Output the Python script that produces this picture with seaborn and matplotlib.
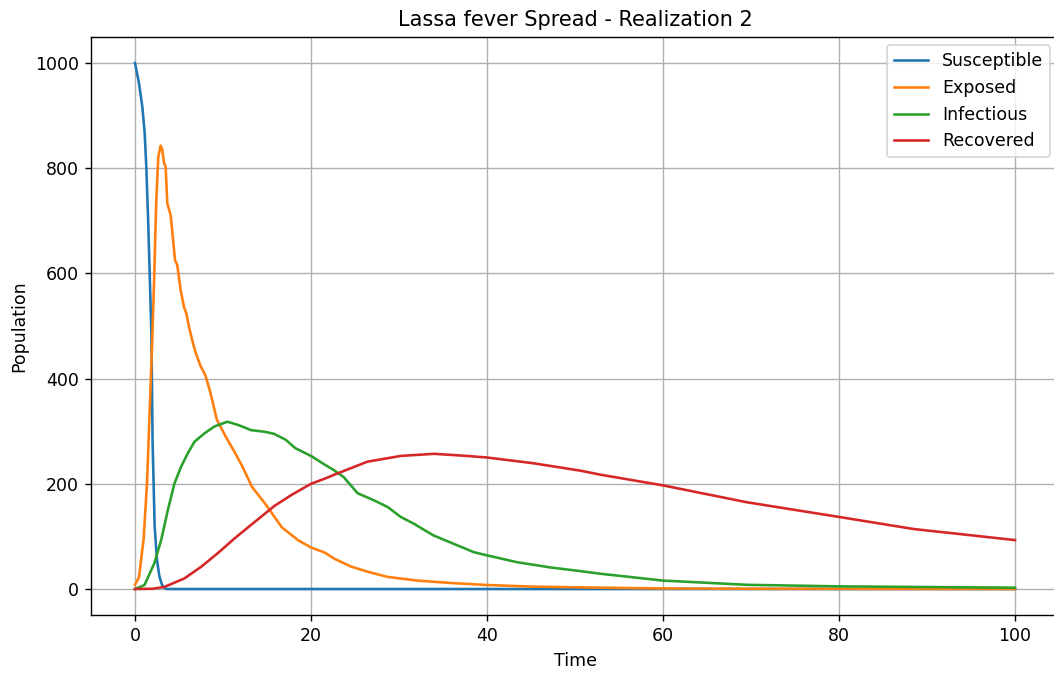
import matplotlib
matplotlib.use("Agg")
import matplotlib.pyplot as plt
import seaborn as sns
import pandas as pd

# Susceptible
t_s = [0, 0.45, 0.83, 1.1, 1.29, 1.48, 1.67, 1.86, 2.0, 2.23, 2.5, 2.77, 3.07, 3.35, 3.6, 100]
v_s = [1000, 962, 917, 867, 800, 708, 600, 487, 280, 120, 55, 24, 8, 2, 0, 0]

# Exposed
t_e = [0, 0.45, 0.98, 1.36, 1.65, 1.95, 2.16, 2.42, 2.65, 2.92, 3.1, 3.3, 3.48, 3.67, 4.05,
       4.55, 4.8, 5.19, 5.57, 5.83, 6.14, 6.5, 6.86, 7.42, 8.0, 8.56, 9.3, 10.3, 11.4, 12.2,
       13.3, 14.8, 16.7, 18.6, 20, 21.6, 22.6, 24.5, 26.4, 28.7, 32.1, 35.8, 40, 45.3, 52.9,
       60, 70, 80, 100]
v_e = [8, 22, 95, 200, 330, 470, 581, 740, 822, 843, 835, 810, 803, 733, 711,
       625, 616, 568, 536, 524, 498, 473, 451, 425, 406, 374, 322, 290, 258, 233,
       194, 162, 117, 92, 79, 69, 58, 43, 33, 23, 16, 11.5, 7.6, 4.5, 2.5,
       1, 0.5, 0.2, 0]

# Infectious
t_i = [0, 1.08, 2.2, 2.97, 3.73, 4.49, 5.25, 6.0, 6.76, 7.9, 9.03, 10.5, 11.7, 13.2,
       14.7, 15.8, 17.1, 18.2, 20.1, 21.6, 22.6, 23.7, 25.3, 27.1, 28.7, 30.2, 31.7, 33.9,
       36.2, 38.5, 40, 43.4, 47.2, 50.6, 52.9, 60, 69.5, 80, 100]
v_i = [0, 7.6, 49, 93, 150, 201, 233, 258, 280, 296, 309, 318, 312, 302,
       299, 295, 284, 268, 252, 236, 226, 213, 182, 169, 156, 137, 124, 102,
       86, 70, 64, 51, 41, 34, 29, 16, 8, 5, 2.5]

# Recovered
t_r = [0, 2.0, 3.35, 5.6, 7.5, 9.4, 11.3, 13.2, 15.85, 17.8, 20, 21.6, 22.6, 26.4, 30.2,
       34, 37.7, 40, 45.3, 50.6, 53, 60, 69.5, 80, 88.5, 100]
v_r = [0, 0.5, 4, 20, 42, 68, 96, 122, 158, 179, 200, 210, 217, 242, 253,
       257, 253, 250, 239, 225, 217, 197, 165, 137, 114, 93]

labels = ["Susceptible", "Exposed", "Infectious", "Recovered"]
series = [(t_s, v_s), (t_e, v_e), (t_i, v_i), (t_r, v_r)]

frames = []
for lab, (t, v) in zip(labels, series):
    frames.append(pd.DataFrame({"Time": t, "Population": v, "Compartment": lab}))
df = pd.concat(frames, ignore_index=True)

W, H = 1054, 673
fig = plt.figure(figsize=(W / 125, H / 125), dpi=125)
left, right, top, bottom = 91, 1059, 36.7, 615.3
ax = fig.add_axes([left / W, 1 - bottom / H, (right - left) / W, (bottom - top) / H])

sns.lineplot(data=df, x="Time", y="Population", hue="Compartment",
             hue_order=labels, palette="tab10", estimator=None, sort=False,
             linewidth=1.5, ax=ax)

handles, labs = ax.get_legend_handles_labels()
ax.legend(handles, labs, loc="upper right")
ax.set_title("Lassa fever Spread - Realization 2")
ax.set_xlabel("Time")
ax.set_ylabel("Population")
ax.grid(True)
ax.set_xlim(-5, 105)
ax.set_ylim(-50, 1050)

fig.savefig("out.png", dpi=125)
